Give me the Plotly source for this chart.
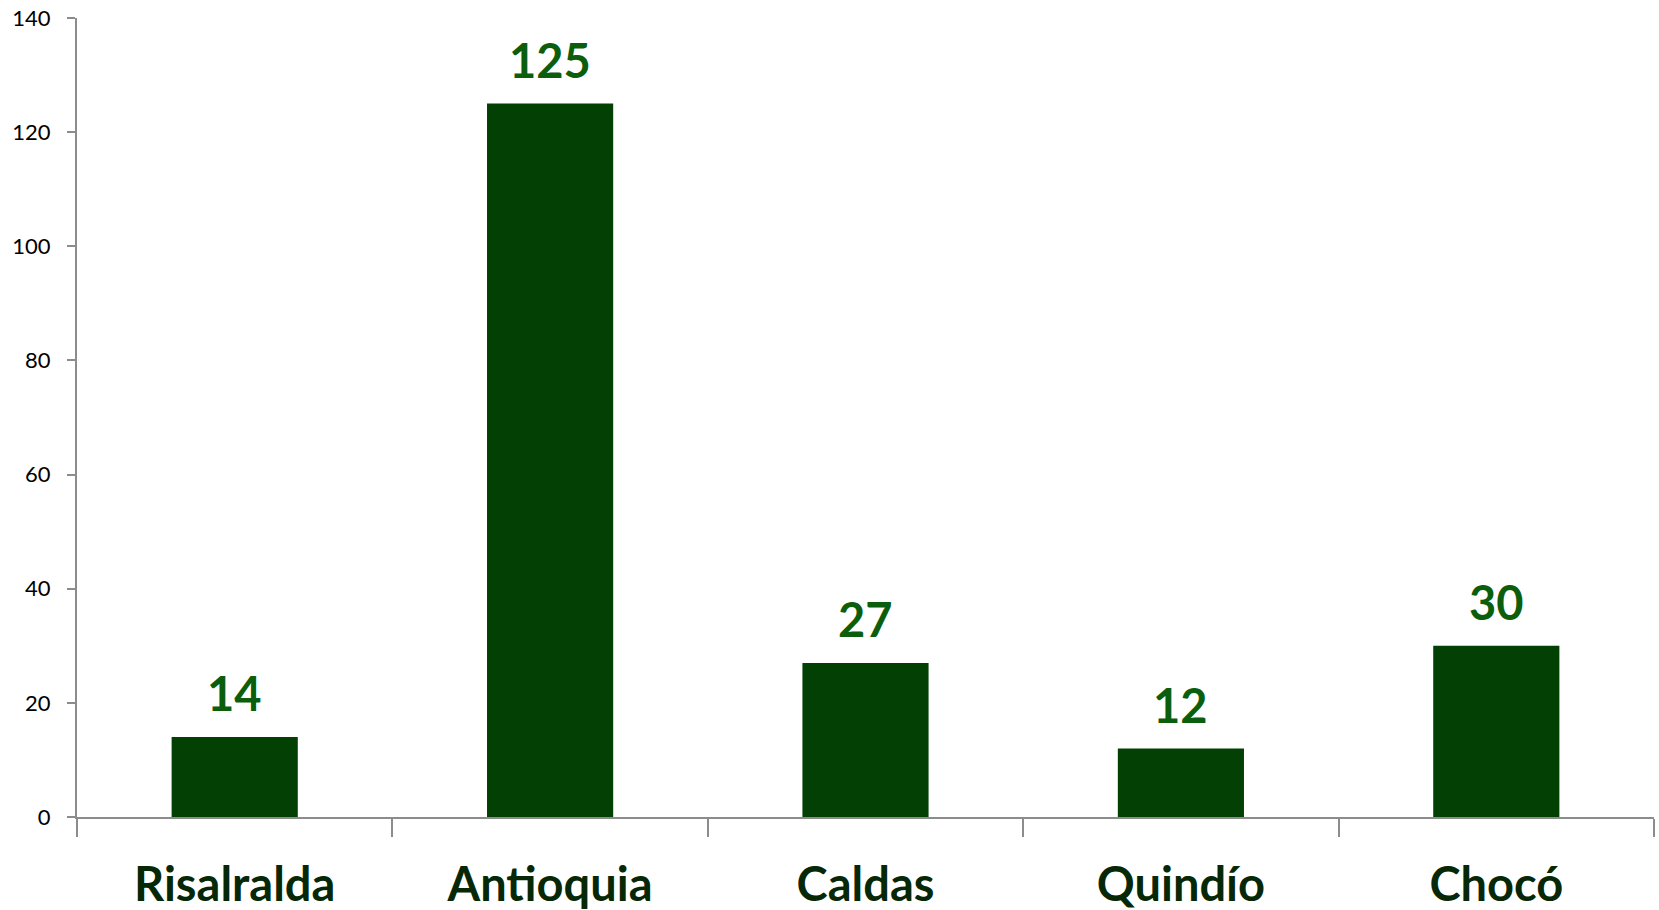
import plotly.graph_objects as go

categories = ["Risalralda", "Antioquia", "Caldas", "Quindío", "Chocó"]
values = [14, 125, 27, 12, 30]
tick_vals = [0, 20, 40, 60, 80, 100, 120, 140]

bar_color = "#034003"
label_color = "#0b5e0b"
cat_color = "#062806"
axis_color = "#8c8c8c"
font_family = "Lato, 'Open Sans', sans-serif"

fig = go.Figure()
fig.add_trace(go.Bar(
    x=categories, y=values, marker=dict(color=bar_color, line=dict(width=0)),
    width=0.4, hoverinfo="skip",
))

for c, v in zip(categories, values):
    fig.add_annotation(
        x=c, y=v, text=str(v), showarrow=False, yanchor="bottom", yshift=14,
        font=dict(family=font_family, size=47, color=label_color, weight="bold"),
    )

fig.update_layout(
    width=1659, height=910,
    margin=dict(l=77, r=5, t=18, b=93),
    paper_bgcolor="white", plot_bgcolor="white",
    showlegend=False,
    xaxis=dict(
        showline=True, linecolor=axis_color, linewidth=2, automargin=False,
        ticks="outside", tickson="boundaries", ticklen=18, tickcolor=axis_color, tickwidth=2,
        tickfont=dict(family=font_family, size=47, color=cat_color, weight="bold"),
        showgrid=False, zeroline=False, ticklabelstandoff=26,
    ),
    yaxis=dict(
        range=[0, 140], tickvals=tick_vals, showline=True, linecolor=axis_color, linewidth=2,
        automargin=False, ticklabeloverflow="allow",
        ticks="outside", ticklen=8, tickcolor=axis_color, tickwidth=2,
        tickfont=dict(family=font_family, size=22, color="black"),
        showgrid=False, zeroline=False, ticklabelstandoff=12,
    ),
)

fig.write_html(
    "out.html",
    config={"displayModeBar": False},
    post_script="document.body.style.margin='0';document.body.style.overflow='hidden';",
)
